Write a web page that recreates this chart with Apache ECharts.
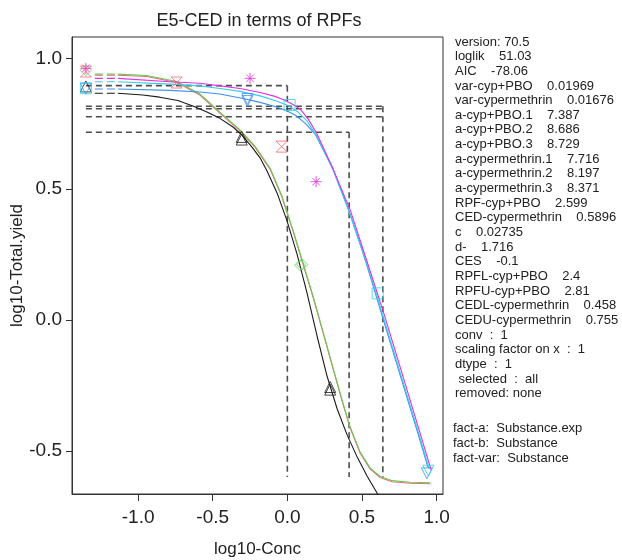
<!DOCTYPE html>
<html><head><meta charset="utf-8">
<script src="https://cdn.jsdelivr.net/npm/echarts@6/dist/echarts.min.js"></script>
<style>html,body{margin:0;padding:0;background:#fff}#c{width:622px;height:560px}</style>
</head><body><div id="c"></div>
<script>
// ---- data ----
const xTicks = [-1.0, -0.5, 0.0, 0.5, 1.0];
const yTicks = [-0.5, 0.0, 0.5, 1.0];

const curveBlack = [[-1.136,0.867],[-0.969,0.860],[-0.855,0.852],[-0.734,0.839],[-0.633,0.818],[-0.539,0.795],[-0.452,0.771],[-0.364,0.738],[-0.304,0.707],[-0.237,0.661],[-0.183,0.620],[-0.136,0.570],[-0.069,0.486],[-0.002,0.379],[0.065,0.252],[0.132,0.103],[0.199,-0.061],[0.266,-0.214],[0.334,-0.340],[0.401,-0.440],[0.468,-0.524],[0.535,-0.597],[0.602,-0.662],[0.656,-0.708]];
const curveGreen = [[-1.136,0.940],[-0.942,0.935],[-0.740,0.912],[-0.586,0.864],[-0.452,0.795],[-0.317,0.727],[-0.217,0.665],[-0.116,0.581],[-0.036,0.474],[0.038,0.344],[0.105,0.218],[0.172,0.092],[0.240,-0.046],[0.307,-0.184],[0.367,-0.306],[0.421,-0.409],[0.488,-0.505],[0.555,-0.566],[0.622,-0.598],[0.703,-0.614],[0.823,-0.620],[0.958,-0.622]];
const curveRed = [[-1.136,0.936],[-0.942,0.931],[-0.740,0.908],[-0.586,0.860],[-0.452,0.791],[-0.317,0.723],[-0.217,0.661],[-0.116,0.577],[-0.036,0.470],[0.038,0.340],[0.105,0.214],[0.172,0.088],[0.240,-0.050],[0.307,-0.188],[0.367,-0.310],[0.421,-0.413],[0.488,-0.509],[0.555,-0.570],[0.622,-0.602],[0.703,-0.618],[0.823,-0.624],[0.958,-0.626]];
const curveMagenta = [[-1.134,0.924],[-0.787,0.911],[-0.586,0.905],[-0.452,0.895],[-0.317,0.885],[-0.183,0.870],[-0.083,0.855],[-0.029,0.843],[0.032,0.826],[0.085,0.807],[0.139,0.769],[0.199,0.711],[0.307,0.577],[0.421,0.421],[0.535,0.222],[0.642,0.034],[0.756,-0.180],[0.857,-0.371],[0.964,-0.574]];
const curveCyan = [[-1.134,0.911],[-0.787,0.902],[-0.586,0.895],[-0.452,0.885],[-0.317,0.874],[-0.183,0.857],[-0.083,0.839],[0.005,0.820],[0.072,0.795],[0.132,0.761],[0.193,0.707],[0.307,0.574],[0.414,0.413],[0.521,0.233],[0.595,0.103],[0.669,-0.038],[0.783,-0.252],[0.877,-0.428],[0.951,-0.570]];
const curveBlue = [[-1.134,0.883],[-0.787,0.878],[-0.586,0.872],[-0.452,0.864],[-0.297,0.847],[-0.183,0.832],[-0.083,0.816],[-0.015,0.803],[0.052,0.784],[0.119,0.753],[0.186,0.711],[0.300,0.585],[0.407,0.428],[0.501,0.268],[0.575,0.130],[0.656,-0.023],[0.770,-0.237],[0.864,-0.413],[0.944,-0.566]];
const extStartX = -1.29;

const ptsBlack = [[-1.35,0.893],[-0.306,0.700],[-0.306,0.690],[0.287,-0.256],[0.287,-0.266]];
const ptsBlue = [[-1.35,0.884],[-0.268,0.845],[-0.268,0.837],[0.935,-0.586]];
const ptsCyan = [[-1.35,0.886],[0.015,0.822],[0.605,0.102]];
const ptsCyanDown = [[0.945,-0.576]];
const ptsMagenta = [[-1.35,0.962],[-0.25,0.924],[0.193,0.529]];
const ptsGreen = [[-1.35,0.955],[0.085,0.210],[0.100,0.212]];
const ptsRed = [[-1.35,0.950],[-0.742,0.908],[-0.038,0.663]];

const cedStartX = -1.35;
const cedHLevels = [0.896, 0.817, 0.808, 0.777, 0.718];
const cedHEnds = [0.0, 0.64, 0.64, 0.64, 0.414];
const cedVX = [0.0, 0.64, 0.414];
const cedVTop = [0.896, 0.817, 0.718];
const cedVBottom = -0.60;

const infoLines = [
 'version: 70.5','loglik    51.03','AIC    -78.06','var-cyp+PBO    0.01969','var-cypermethrin    0.01676',
 'a-cyp+PBO.1    7.387','a-cyp+PBO.2    8.686','a-cyp+PBO.3    8.729','a-cypermethrin.1    7.716',
 'a-cypermethrin.2    8.197','a-cypermethrin.3    8.371','RPF-cyp+PBO    2.599','CED-cypermethrin    0.5896',
 'c    0.02735','d-    1.716','CES    -0.1','RPFL-cyp+PBO    2.4','RPFU-cyp+PBO    2.81',
 'CEDL-cypermethrin    0.458','CEDU-cypermethrin    0.755','conv  :  1','scaling factor on x  :  1',
 'dtype  :  1',' selected  :  all','removed: none'];
const factLines = ['fact-a:  Substance.exp','fact-b:  Substance','fact-var:  Substance'];

// ---- styling ----
const FONT = "'Liberation Sans', Arial, sans-serif";
const COL = {black:'#1a1a1a', green:'#66cc55', red:'#ee6677', blue:'#3d8fee', cyan:'#33cceb', magenta:'#e030e0', gray:'#4d4d4d'};
const SYM = {
  up: 'path://M5,0 L10,9 L0,9 Z',
  down: 'path://M0,0 L10,0 L5,9 Z',
  square: 'path://M0,0 L10,0 L10,10 L0,10 Z',
  diamond: 'path://M5,0 L10,5 L5,10 L0,5 Z',
  star: 'path://M5,0 L5,10 M0,5 L10,5 M1.5,1.5 L8.5,8.5 M8.5,1.5 L1.5,8.5',
  hour: 'path://M0,0 L10,0 L0,10 L10,10 Z'
};

const series = [];
cedHLevels.forEach((y,i)=>{
  series.push({type:'line', data:[[cedStartX,y],[cedHEnds[i],y]], symbol:'none', silent:true,
    lineStyle:{color:COL.gray, width:1.6, type:[6,4]}, z:1});
});
cedVX.forEach((x,i)=>{
  series.push({type:'line', data:[[x,cedVTop[i]],[x,cedVBottom]], symbol:'none', silent:true,
    lineStyle:{color:COL.gray, width:1.6, type:[6,4]}, z:1});
});
const curves = [[curveRed,COL.red],[curveGreen,COL.green],[curveBlack,COL.black],[curveBlue,COL.blue],[curveCyan,COL.cyan],[curveMagenta,COL.magenta]];
curves.forEach(([d,c])=>{
  series.push({type:'line', data:d, symbol:'none', silent:true, smooth:false,
    lineStyle:{color:c, width:1.1}, z:2});
  series.push({type:'line', data:[[extStartX,d[0][1]],[d[0][0],d[0][1]]], symbol:'none', silent:true,
    lineStyle:{color:c, width:1.1, type:[8,4]}, z:2});
});
const pts = [[ptsBlack,COL.black,SYM.up],[ptsBlue,COL.blue,SYM.down],[ptsCyan,COL.cyan,SYM.square],
  [ptsCyanDown,COL.cyan,SYM.down],
  [ptsMagenta,COL.magenta,SYM.star],[ptsGreen,COL.green,SYM.diamond],[ptsRed,COL.red,SYM.hour]];
pts.forEach(([d,c,s])=>{
  series.push({type:'scatter', data:d, symbol:s, symbolSize:11, silent:true,
    itemStyle:{color:'rgba(0,0,0,0)', borderColor:c, borderWidth:1}, z:3});
});

const graphic = [{type:'text', x:259, y:21, style:{text:'E5-CED in terms of RPFs', font:'18px '+FONT, fill:'#222', textAlign:'center', textVerticalAlign:'middle'}}];
infoLines.forEach((t,i)=>{
  graphic.push({type:'text', x:455, y:42+i*14.65, style:{text:t, font:'13px '+FONT, fill:'#222', textVerticalAlign:'middle'}});
});
factLines.forEach((t,i)=>{
  graphic.push({type:'text', x:453, y:428+i*15, style:{text:t, font:'13px '+FONT, fill:'#222', textVerticalAlign:'middle'}});
});

const chart = echarts.init(document.getElementById('c'), null, {renderer:'canvas'});
chart.setOption({
  animation:false,
  backgroundColor:'#fff',
  grid:{left:72, top:37, right:179, bottom:66, show:true, borderColor:'#333', borderWidth:1, outerBoundsMode:'none', containLabel:false},
  xAxis:{type:'value', min:-1.443, max:1.043,
    axisLine:{show:true, onZero:false, lineStyle:{color:'#333'}},
    splitLine:{show:false},
    axisTick:{show:true, customValues:xTicks, length:7, lineStyle:{color:'#333'}},
    axisLabel:{customValues:xTicks, formatter:v=>v.toFixed(1), fontSize:19, color:'#222', fontFamily:FONT, margin:14},
    name:'log10-Conc', nameLocation:'middle', nameGap:47, nameMoveOverlap:false, nameTextStyle:{fontSize:17, color:'#222', fontFamily:FONT}},
  yAxis:{type:'value', min:-0.665, max:1.082,
    axisLine:{show:true, onZero:false, lineStyle:{color:'#333'}},
    splitLine:{show:false},
    axisTick:{show:true, customValues:yTicks, length:6, lineStyle:{color:'#333'}},
    axisLabel:{customValues:yTicks, formatter:v=>v.toFixed(1), fontSize:19, color:'#222', fontFamily:FONT, margin:10},
    name:'log10-Total.yield', nameLocation:'middle', nameGap:46, nameMoveOverlap:false, nameRotate:90, nameTextStyle:{fontSize:17, color:'#222', fontFamily:FONT}},
  series:series,
  graphic:graphic
});
</script></body></html>
